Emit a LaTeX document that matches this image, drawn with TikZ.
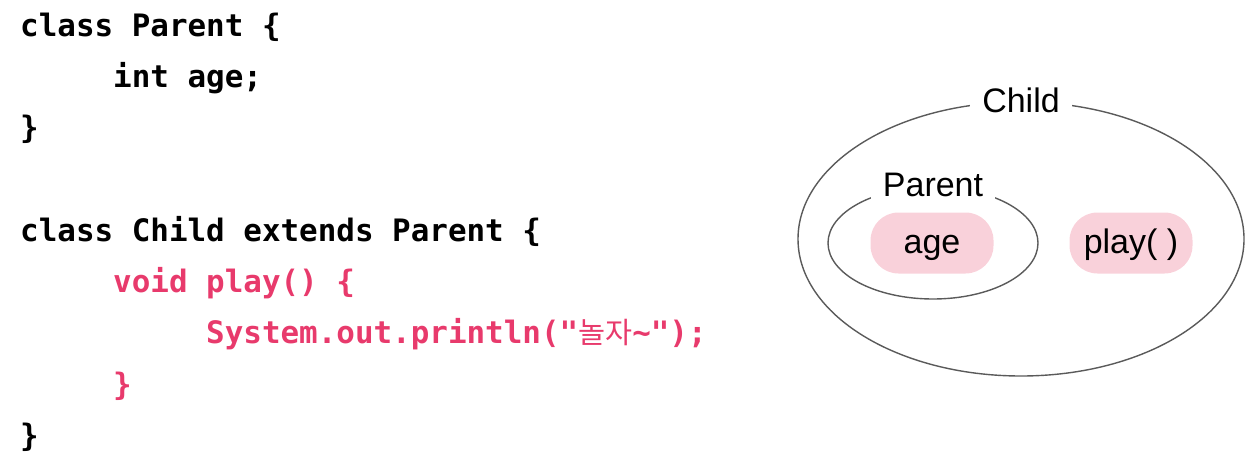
\documentclass[tikz,border=0pt]{standalone}
\usepackage{fontspec}
\usetikzlibrary{shapes.geometric}
\setmainfont{Liberation Sans}
\setmonofont{DejaVu Sans Mono}
\newfontfamily\krfont[Scale=0.95]{Noto Sans CJK KR}
\definecolor{codepink}{HTML}{E83A6C}
\definecolor{pillpink}{HTML}{F9D1DA}
\definecolor{ringgray}{HTML}{5A5A5A}
\begin{document}
\begin{tikzpicture}[x=1pt,y=-1pt,
  codeline/.style={anchor=base west,inner sep=0pt,font=\fontsize{30.9}{31}\ttfamily\bfseries},
  ring/.style={draw=ringgray,line width=1.4pt,ellipse,inner sep=0pt},
  ringlabel/.style={anchor=base,fill=white,inner xsep=12pt,inner ysep=6pt,font=\fontsize{34}{35}\selectfont},
  pill/.style={fill=pillpink,rounded corners=28pt,minimum width=123pt,minimum height=61pt,inner sep=0pt,
    text height=25pt,text depth=4pt,font=\fontsize{34}{35}\selectfont}]
\useasboundingbox (0,0) rectangle (1252,466);
% code
\node[codeline] (l1) at (20,36) {class Parent \{};
\node[codeline] (l2) at (113,87.3) {int age;};
\node[codeline] (l3) at (20,138.6) {\}};
\node[codeline] (l4) at (20,241.2) {class Child extends Parent \{};
\node[codeline,text=codepink] (l5) at (113,292.5) {void play() \{};
\node[codeline,text=codepink] (l6) at (206,343.8) {System.out.println("{\krfont\mdseries 놀자}\textasciitilde");};
\node[codeline,text=codepink] (l7) at (113,395.1) {\}};
\node[codeline] (l8) at (20,446.4) {\}};
% diagram
\node[ring,minimum width=446pt,minimum height=274pt] (child) at (1021,239) {};
\node[ring,minimum width=210pt,minimum height=112pt] (parent) at (933,243) {};
\node[ringlabel] (childlbl) at (1021,112) {Child};
\node[ringlabel] (parentlbl) at (933,196) {Parent};
\node[pill] (age) at (932,243) {age};
\node[pill] (play) at (1131,243) {play( )};
\end{tikzpicture}
\end{document}
